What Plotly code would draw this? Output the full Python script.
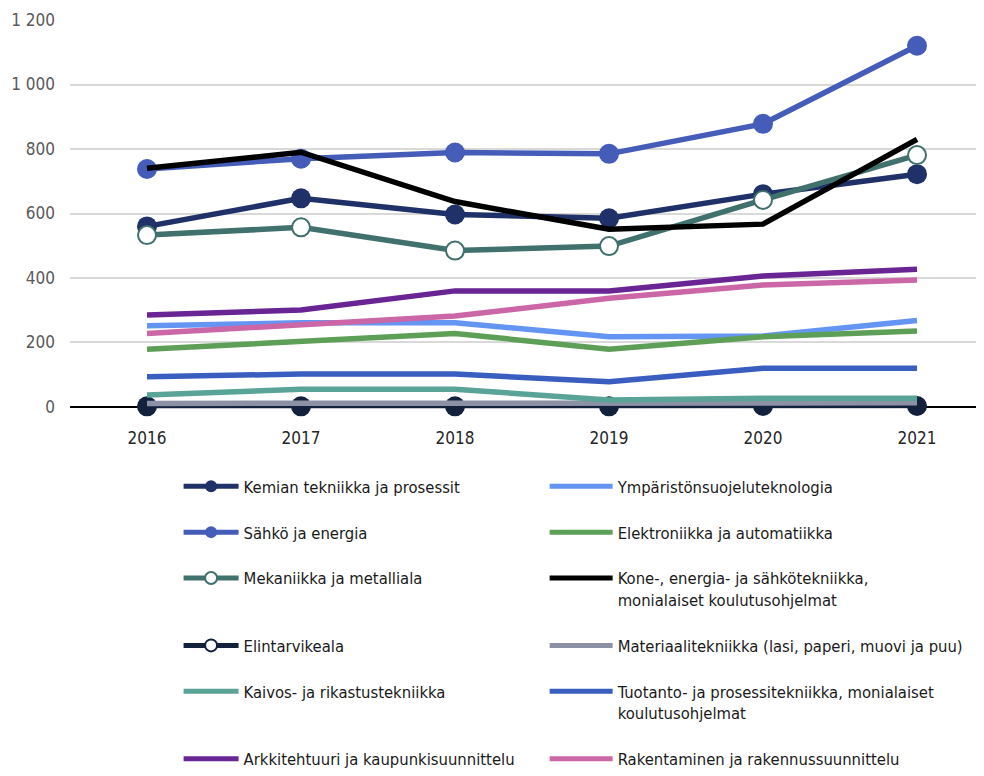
import plotly.graph_objects as go

FONT = "Liberation Sans Narrow, DejaVu Sans Condensed, Arial Narrow, sans-serif"

years = ["2016", "2017", "2018", "2019", "2020", "2021"]

kemian = [560, 647, 597, 585, 660, 722]
ymparisto = [252, 261, 261, 218, 220, 268]
sahko = [738, 770, 789, 785, 878, 1120]
elektroniikka = [179, 203, 228, 179, 218, 236]
mekaniikka = [533, 557, 485, 499, 642, 781]
kone = [740, 790, 637, 551, 567, 830]
elintarvike = [2, 2, 2, 2, 3, 3]
materiaali = [11, 12, 12, 12, 13, 13]
kaivos = [37, 55, 55, 22, 27, 27]
tuotanto = [94, 102, 102, 78, 120, 120]
arkkitehtuuri = [285, 301, 360, 360, 406, 427]
rakentaminen = [228, 253, 282, 337, 378, 394]

PAD = "<br>&nbsp;"

# (name, values, colour, marker style, legend column) in drawing order
series = [
    ("Kemian tekniikka ja prosessit" + PAD, kemian, "#1F3168", "filled", "legend"),
    ("Ympäristönsuojeluteknologia" + PAD, ymparisto, "#6495F2", None, "legend2"),
    ("Sähkö ja energia" + PAD, sahko, "#455CB8", "filled", "legend"),
    ("Elektroniikka ja automatiikka" + PAD, elektroniikka, "#5E9F58", None, "legend2"),
    ("Mekaniikka ja metalliala" + PAD + PAD, mekaniikka, "#41716D", "open", "legend"),
    ("Kone-, energia- ja sähkötekniikka,<br>monialaiset koulutusohjelmat" + PAD, kone, "#000000", None, "legend2"),
    ("Elintarvikeala" + PAD, elintarvike, "#14213D", "dark", "legend"),
    ("Materiaalitekniikka (lasi, paperi, muovi ja puu)" + PAD, materiaali, "#8C91A6", None, "legend2"),
    ("Kaivos- ja rikastustekniikka" + PAD + PAD, kaivos, "#5AA397", None, "legend"),
    ("Tuotanto- ja prosessitekniikka, monialaiset<br>koulutusohjelmat" + PAD, tuotanto, "#3A5DC0", None, "legend2"),
    ("Arkkitehtuuri ja kaupunkisuunnittelu", arkkitehtuuri, "#6A2594", None, "legend"),
    ("Rakentaminen ja rakennussuunnittelu", rakentaminen, "#CB67A7", None, "legend2"),
]

fig = go.Figure()
for name, vals, color, mk, lg in series:
    line = dict(color=color, width=5.5)
    if mk is None:
        fig.add_trace(go.Scatter(x=years, y=vals, name=name, mode="lines", line=line,
                                 cliponaxis=False, legend=lg))
    elif mk == "filled":
        fig.add_trace(go.Scatter(x=years, y=vals, name=name, mode="lines+markers", line=line,
                                 marker=dict(size=20, color=color), cliponaxis=False, legend=lg))
    elif mk == "open":
        fig.add_trace(go.Scatter(x=years, y=vals, name=name, mode="lines+markers", line=line,
                                 marker=dict(size=18, color="white", line=dict(color=color, width=2)),
                                 cliponaxis=False, legend=lg))
    else:
        # plotted with dark markers, shown in the legend as an open marker
        fig.add_trace(go.Scatter(x=years, y=vals, name=name, mode="lines+markers", line=line,
                                 marker=dict(size=20, color=color), cliponaxis=False,
                                 showlegend=False))
        fig.add_trace(go.Scatter(x=[None], y=[None], name=name, mode="lines+markers", line=line,
                                 marker=dict(size=12, color="white", line=dict(color=color, width=2)),
                                 legend=lg))

leg = dict(orientation="v", xanchor="left", y=0, yanchor="bottom",
           itemwidth=55, valign="top", itemsizing="constant",
           font=dict(family=FONT, size=16.5, color="#1a1a1a"),
           bgcolor="rgba(0,0,0,0)", traceorder="normal")

# the page body adds an 8px offset, so the figure is 8px smaller than the window
fig.update_layout(
    width=976, height=768,
    paper_bgcolor="white", plot_bgcolor="white",
    font=dict(family=FONT, size=17, color="#1a1a1a"),
    separators=", ",
    margin=dict(l=62, r=0, t=12, b=0),
    showlegend=True,
    legend=dict(leg, x=0.1188),
    legend2=dict(leg, x=0.5193, itemwidth=63),
    xaxis=dict(range=[-0.5, 5.435], showgrid=False, showline=False, ticks="",
               automargin=False,
               tickfont=dict(family=FONT, size=17, color="#262626"),
               ticklabelstandoff=18),
    yaxis=dict(domain=[0.4864, 1], range=[-4, 1200], tickvals=[0, 200, 400, 600, 800, 1000, 1200],
               automargin=False,
               separatethousands=True, gridcolor="#D9D9D9", gridwidth=1.5,
               zeroline=True, zerolinecolor="black", zerolinewidth=2,
               showline=False, ticks="", ticklabelstandoff=14,
               tickfont=dict(family=FONT, size=17, color="#595959")),
)

fig.write_html("out.html")
